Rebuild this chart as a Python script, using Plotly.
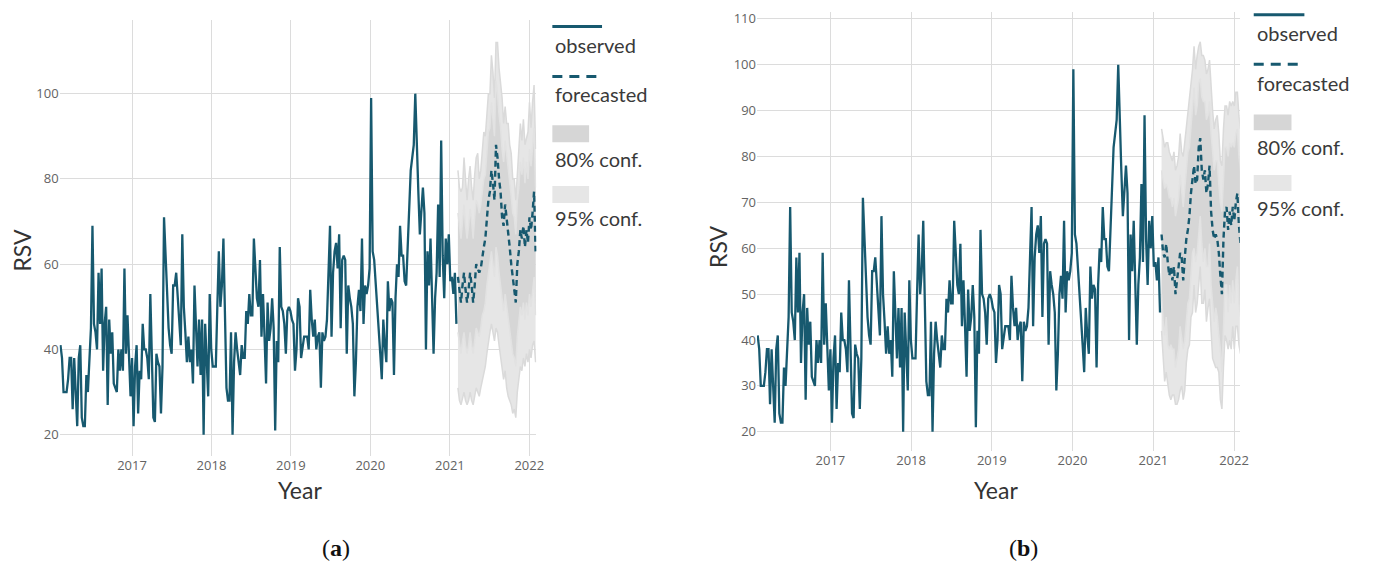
import pandas as pd
import plotly.graph_objects as go

# ---------------- data ----------------
# weekly relative search volume (RSV), observed
obs_2016 = [41, 38, 30, 30, 30, 33, 38, 38, 26, 38, 30, 22, 38, 41, 24, 22, 22, 34, 30, 38,
            45, 69, 46, 44, 40, 58, 46, 59, 35, 46, 50, 27, 47, 39, 44, 32, 31, 30, 40, 35,
            40, 35, 59, 39, 48, 40, 29, 38, 22]
obs_2017 = [36, 41, 25, 35, 33, 46, 40, 40, 38, 33, 53, 36, 24, 23, 39, 37, 36, 25, 36, 71,
            63, 52, 45, 41, 39, 55, 55, 58, 52, 48, 41, 67, 50, 44, 37, 43, 37, 40, 32, 55,
            43, 36, 47, 34, 47, 20, 46, 35, 29, 53, 40, 36]
obs_2018 = [36, 36, 50, 63, 50, 55, 66, 50, 31, 28, 28, 44, 20, 37, 44, 40, 37, 34, 41, 38,
            38, 49, 46, 53, 48, 48, 66, 59, 52, 50, 61, 43, 53, 43, 32, 51, 42, 45, 52, 45,
            21, 42, 37, 64, 50, 49, 46, 39, 49, 50, 49, 47]
obs_2019 = [46, 35, 40, 52, 50, 38, 41, 43, 43, 43, 40, 54, 47, 43, 47, 40, 43, 44, 31, 44,
            42, 43, 47, 56, 69, 43, 58, 63, 65, 59, 67, 45, 61, 62, 61, 39, 55, 52, 50, 46,
            29, 37, 50, 54, 49, 66, 46, 55, 53, 55, 59, 99]
obs_2020 = [63, 61, 56, 51, 45, 39, 33, 47, 41, 37, 56, 49, 52, 51, 34, 52, 60, 57, 69, 62,
            62, 56, 55, 64, 74, 82, 85, 88, 100, 86, 77, 67, 72, 78, 72, 40, 63, 55, 66, 52,
            39, 52, 58, 74, 57, 89, 62, 52, 66, 60, 67, 56, 57, 53, 58, 46]

# panel (a) forecast and confidence limits
fc_a = [57, 54, 51, 55, 58, 54, 51, 54, 58, 55, 51, 55, 60, 59, 58, 59, 62, 64, 66, 70,
        75, 77, 82, 79, 75, 88, 85, 80, 77, 71, 69, 74, 71, 68, 64, 60, 57, 55, 51, 60,
        63, 68, 66, 69, 64, 68, 65, 71, 68, 72, 77, 63]
up95_a = [82, 78, 77, 78, 85, 79, 75, 80, 83, 78, 75, 81, 85, 86, 80, 82, 87, 91, 90, 96,
          100, 100, 109, 105, 99, 112, 112, 106, 102, 99, 93, 97, 93, 93, 88, 86, 80, 80, 75, 82,
          87, 93, 89, 94, 88, 90, 91, 98, 92, 98, 102, 87]
lo95_a = [31, 28, 27, 29, 30, 28, 27, 28, 30, 28, 27, 29, 31, 30, 29, 31, 33, 34, 36, 39,
          42, 44, 46, 44, 42, 45, 44, 41, 38, 36, 33, 35, 31, 29, 28, 27, 25, 26, 24, 30,
          33, 36, 35, 38, 36, 39, 37, 40, 38, 41, 42, 37]
up80_a = [72, 69, 66, 70, 74, 69, 66, 69, 73, 70, 66, 71, 75, 74, 72, 74, 77, 80, 81, 86,
          91, 92, 98, 94, 90, 103, 100, 95, 92, 87, 84, 89, 86, 83, 79, 76, 72, 71, 67, 75,
          78, 84, 81, 85, 79, 84, 80, 87, 83, 88, 92, 78]
lo80_a = [44, 41, 39, 42, 44, 41, 39, 41, 44, 41, 39, 42, 45, 44, 43, 45, 48, 49, 51, 55,
          58, 60, 63, 60, 57, 64, 62, 58, 55, 51, 49, 53, 50, 47, 44, 41, 39, 38, 36, 43,
          46, 50, 48, 51, 47, 51, 48, 53, 50, 54, 57, 48]

# panel (b) forecast and confidence limits
fc_b = [63, 59, 58, 61, 57, 54, 56, 53, 56, 50, 53, 56, 59, 58, 53, 58, 62, 64, 67, 72,
        75, 78, 74, 75, 82, 84, 77, 75, 77, 72, 74, 78, 68, 64, 62, 63, 62, 59, 54, 50,
        62, 68, 69, 64, 68, 65, 69, 66, 70, 72, 65, 61]
up95_b = [86, 84, 82, 83, 83, 81, 80, 79, 81, 77, 78, 80, 85, 81, 80, 83, 86, 90, 92, 95,
          99, 104, 99, 102, 104, 105, 102, 102, 101, 98, 99, 101, 95, 90, 86, 88, 89, 85, 79, 78,
          86, 91, 91, 89, 92, 91, 92, 91, 94, 94, 89, 86]
lo95_b = [42, 35, 31, 33, 30, 28, 27, 28, 28, 26, 26, 27, 29, 30, 27, 29, 35, 38, 39, 45,
          46, 52, 46, 48, 52, 56, 48, 48, 51, 44, 47, 49, 42, 36, 35, 34, 34, 33, 27, 25,
          34, 41, 40, 38, 40, 38, 43, 38, 43, 43, 39, 37]
up80_b = [77, 75, 73, 74, 73, 71, 71, 69, 71, 67, 69, 71, 76, 72, 69, 73, 78, 81, 82, 86,
          91, 95, 89, 91, 96, 97, 93, 92, 92, 88, 89, 92, 85, 80, 77, 79, 79, 74, 70, 68,
          77, 82, 82, 80, 83, 82, 83, 82, 85, 86, 80, 77]
lo80_b = [50, 44, 41, 45, 39, 38, 39, 38, 38, 34, 36, 38, 43, 41, 38, 40, 45, 48, 49, 55,
          59, 60, 57, 59, 64, 67, 61, 57, 60, 56, 56, 61, 52, 47, 44, 47, 45, 41, 38, 33,
          44, 52, 52, 46, 52, 48, 53, 48, 53, 56, 48, 45]

year_ticks = ["2017", "2018", "2019", "2020", "2021", "2022"]

observed = obs_2016 + obs_2017 + obs_2018 + obs_2019 + obs_2020
obs_dates = pd.date_range("2016-02-07", periods=len(observed), freq="7D")
fc_dates = pd.date_range(obs_dates[-1] + pd.Timedelta(days=7), periods=len(fc_a), freq="7D")

# ---------------- styling ----------------
W, H = 1373, 566
OBS_COLOR = "#17596f"
C80 = "#d6d6d6"
C95 = "#e6e6e6"
GRID = "#dcdcdc"
TICK_FONT = dict(family="Open Sans", size=13, color="#636363")
TITLE_FONT = dict(family="Lato", size=23, color="#333333")
LEG_FONT = dict(family="Lato", size=20, color="#3a3a3a")


def px_x(x):
    return x / W


def px_y(y):
    return 1 - y / H


fig = go.Figure()


def add_panel(xa, ya, fc, up95, lo95, up80, lo80):
    common = dict(x=fc_dates, xaxis=xa, yaxis=ya, showlegend=False, hoverinfo="skip")
    fig.add_trace(go.Scatter(y=lo95, mode="lines", line=dict(color="#dadada", width=1.5), **common))
    fig.add_trace(go.Scatter(y=up95, mode="lines", fill="tonexty", fillcolor=C95,
                             line=dict(color="#dadada", width=1.5), **common))
    fig.add_trace(go.Scatter(y=lo80, mode="lines", line=dict(color="#e2e2e2", width=1.5), **common))
    fig.add_trace(go.Scatter(y=up80, mode="lines", fill="tonexty", fillcolor=C80,
                             line=dict(color="#e2e2e2", width=1.5), **common))
    fig.add_trace(go.Scatter(x=obs_dates, y=observed, mode="lines", xaxis=xa, yaxis=ya,
                             line=dict(color=OBS_COLOR, width=2.3), showlegend=False))
    fig.add_trace(go.Scatter(x=fc_dates, y=fc, mode="lines", xaxis=xa, yaxis=ya,
                             line=dict(color=OBS_COLOR, width=2.4, dash="6px,4px"),
                             showlegend=False))


add_panel("x", "y", fc_a, up95_a, lo95_a, up80_a, lo80_a)
add_panel("x2", "y2", fc_b, up95_b, lo95_b, up80_b, lo80_b)

xcommon = dict(
    type="date",
    tickvals=[f"{y}-01-01" for y in year_ticks],
    ticktext=year_ticks,
    showgrid=True, gridcolor=GRID, gridwidth=1,
    zeroline=False, showline=False, ticks="",
    tickfont=TICK_FONT,
)
ycommon = dict(showgrid=True, gridcolor=GRID, gridwidth=1, zeroline=False,
               showline=False, ticks="", tickfont=TICK_FONT)

fig.update_layout(
    width=W, height=H,
    margin=dict(l=0, r=0, t=0, b=0),
    paper_bgcolor="white", plot_bgcolor="white",
    xaxis=dict(domain=[px_x(60), px_x(540)], range=["2016-02-03", "2022-02-03"],
               anchor="y", **xcommon),
    yaxis=dict(domain=[px_y(455), px_y(17)], range=[15.1, 117.3], dtick=20, tick0=0,
               anchor="x", **ycommon),
    xaxis2=dict(domain=[px_x(762), px_x(1248)], range=["2016-02-04", "2022-01-27"],
                anchor="y2", **xcommon),
    yaxis2=dict(domain=[px_y(450), px_y(9)], range=[15.9, 111.5], dtick=10, tick0=0,
                anchor="x2", **ycommon),
)

annotations = []
shapes = []

# axis titles and panel captions
for (rx, ry, yx, yy, cx, letter) in [(22, 248, 302, 490, 338, "a"), (722, 245, 1003, 490, 1030, "b")]:
    annotations.append(dict(text="RSV", x=px_x(rx), y=px_y(ry), xref="paper", yref="paper",
                            showarrow=False, textangle=-90, font=TITLE_FONT,
                            xanchor="center", yanchor="middle"))
    annotations.append(dict(text="Year", x=px_x(yx), y=px_y(yy), xref="paper", yref="paper",
                            showarrow=False, font=TITLE_FONT, xanchor="center", yanchor="middle"))
    annotations.append(dict(text=f"(<b>{letter}</b>)", x=px_x(cx), y=px_y(548), xref="paper",
                            yref="paper", showarrow=False,
                            font=dict(family="Liberation Serif", size=24, color="#111111"),
                            xanchor="center", yanchor="middle"))


# legends: symbol on one row, label underneath
def add_legend(x0, line_y, obs_y, dash_y, fc_y, r80, t80, r95, t95, line_len, rect_len):
    shapes.append(dict(type="line", xref="paper", yref="paper",
                       x0=px_x(x0), x1=px_x(x0 + line_len), y0=px_y(line_y), y1=px_y(line_y),
                       line=dict(color=OBS_COLOR, width=3)))
    shapes.append(dict(type="line", xref="paper", yref="paper",
                       x0=px_x(x0), x1=px_x(x0 + line_len), y0=px_y(dash_y), y1=px_y(dash_y),
                       line=dict(color=OBS_COLOR, width=3, dash="10px,7px")))
    for (ry0, ry1), col in [(r80, C80), (r95, C95)]:
        shapes.append(dict(type="rect", xref="paper", yref="paper",
                           x0=px_x(x0), x1=px_x(x0 + rect_len), y0=px_y(ry1), y1=px_y(ry0),
                           fillcolor=col, line=dict(width=0)))
    for txt, ty in [("observed", obs_y), ("forecasted", fc_y), ("80% conf.", t80), ("95% conf.", t95)]:
        annotations.append(dict(text=txt, x=px_x(x0 + 1), y=px_y(ty), xref="paper", yref="paper",
                                showarrow=False, font=LEG_FONT, xanchor="left", yanchor="middle"))


add_legend(556, 23.5, 42, 74, 91, (123, 140), 157, (184, 201), 216, 50, 37)
add_legend(1262, 11.7, 30, 61.7, 80, (112, 128), 145, (173, 189), 206, 51, 38)

fig.update_layout(annotations=annotations, shapes=shapes)

fig.write_html("out.html")
